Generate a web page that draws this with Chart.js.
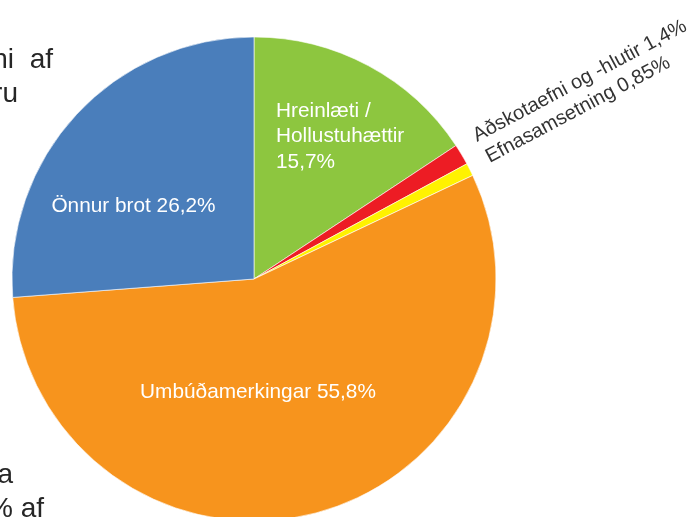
<!DOCTYPE html>
<html>
<head>
<meta charset="utf-8">
<script src="https://cdn.jsdelivr.net/npm/chart.js@4/dist/chart.umd.min.js"></script>
<style>
  html, body { margin: 0; padding: 0; background: #ffffff; }
  canvas { display: block; }
</style>
</head>
<body>
<canvas id="c" width="693" height="517"></canvas>
<script>
// ---- Data ----
const categories = ["Hreinlæti / Hollustuhættir", "Aðskotaefni og -hlutir", "Efnasamsetning", "Umbúðamerkingar", "Önnur brot"];
const values = [15.7, 1.4, 0.85, 55.8, 26.2];
const valueLabels = ["15,7%", "1,4%", "0,85%", "55,8%", "26,2%"];
const colors = ["#8dc63f", "#ed1c24", "#fff200", "#f7941d", "#4a7ebb"];
const sideText = ["hi  af", "ru", "a", "% af"];

const FONT = '"Liberation Sans", Arial, sans-serif';

const labelPlugin = {
  id: 'sliceLabels',
  afterDatasetsDraw(chart) {
    const ctx = chart.ctx;
    const meta = chart.getDatasetMeta(0);
    const a0 = meta.data[0];
    const cx = a0.x, cy = a0.y;
    ctx.save();
    ctx.font = '20.8px ' + FONT;
    ctx.textBaseline = 'middle';

    // Green slice: multi-line, left aligned
    ctx.fillStyle = '#ffffff';
    ctx.textAlign = 'left';
    const gParts = categories[0].split(' / ');
    const gLines = [gParts[0] + ' /', gParts[1], valueLabels[0]];
    gLines.forEach((t, i) => ctx.fillText(t, cx + 22, cy - 168 + i * 25.5));

    // Blue slice
    ctx.textAlign = 'center';
    ctx.fillText(categories[4] + ' ' + valueLabels[4], cx - 120.5, cy - 73);

    // Orange slice
    ctx.fillText(categories[3] + ' ' + valueLabels[3], cx + 4, cy + 113);

    // Small slices: rotated outside labels
    ctx.font = '20px ' + FONT;
    ctx.fillStyle = '#333333';
    ctx.textAlign = 'left';
    ctx.textBaseline = 'alphabetic';
    ctx.translate(cx + 223, cy - 137);
    ctx.rotate(-28 * Math.PI / 180);
    ctx.fillText(categories[1] + ' ' + valueLabels[1], 0, 0);
    ctx.fillText(categories[2] + ' ' + valueLabels[2], 1.5, 24.5);
    ctx.restore();

    // Cropped surrounding text on the left
    ctx.save();
    ctx.font = '28px ' + FONT;
    ctx.fillStyle = '#262626';
    ctx.textAlign = 'right';
    ctx.textBaseline = 'alphabetic';
    ctx.fillText(sideText[0], 53, 68);
    ctx.fillText(sideText[1], 18, 102);
    ctx.fillText(sideText[2], 13, 483);
    ctx.fillText(sideText[3], 44, 517);
    ctx.restore();
  }
};

new Chart(document.getElementById('c'), {
  type: 'pie',
  data: {
    labels: categories,
    datasets: [{
      data: values,
      backgroundColor: colors,
      borderColor: '#ffffff',
      borderWidth: 0.6,
      radius: 242
    }]
  },
  options: {
    responsive: false,
    animation: false,
    layout: { padding: { left: 0, right: 185, top: 41, bottom: 0 } },
    plugins: {
      legend: { display: false },
      tooltip: { enabled: false },
      title: { display: false }
    }
  },
  plugins: [labelPlugin]
});
</script>
</body>
</html>
